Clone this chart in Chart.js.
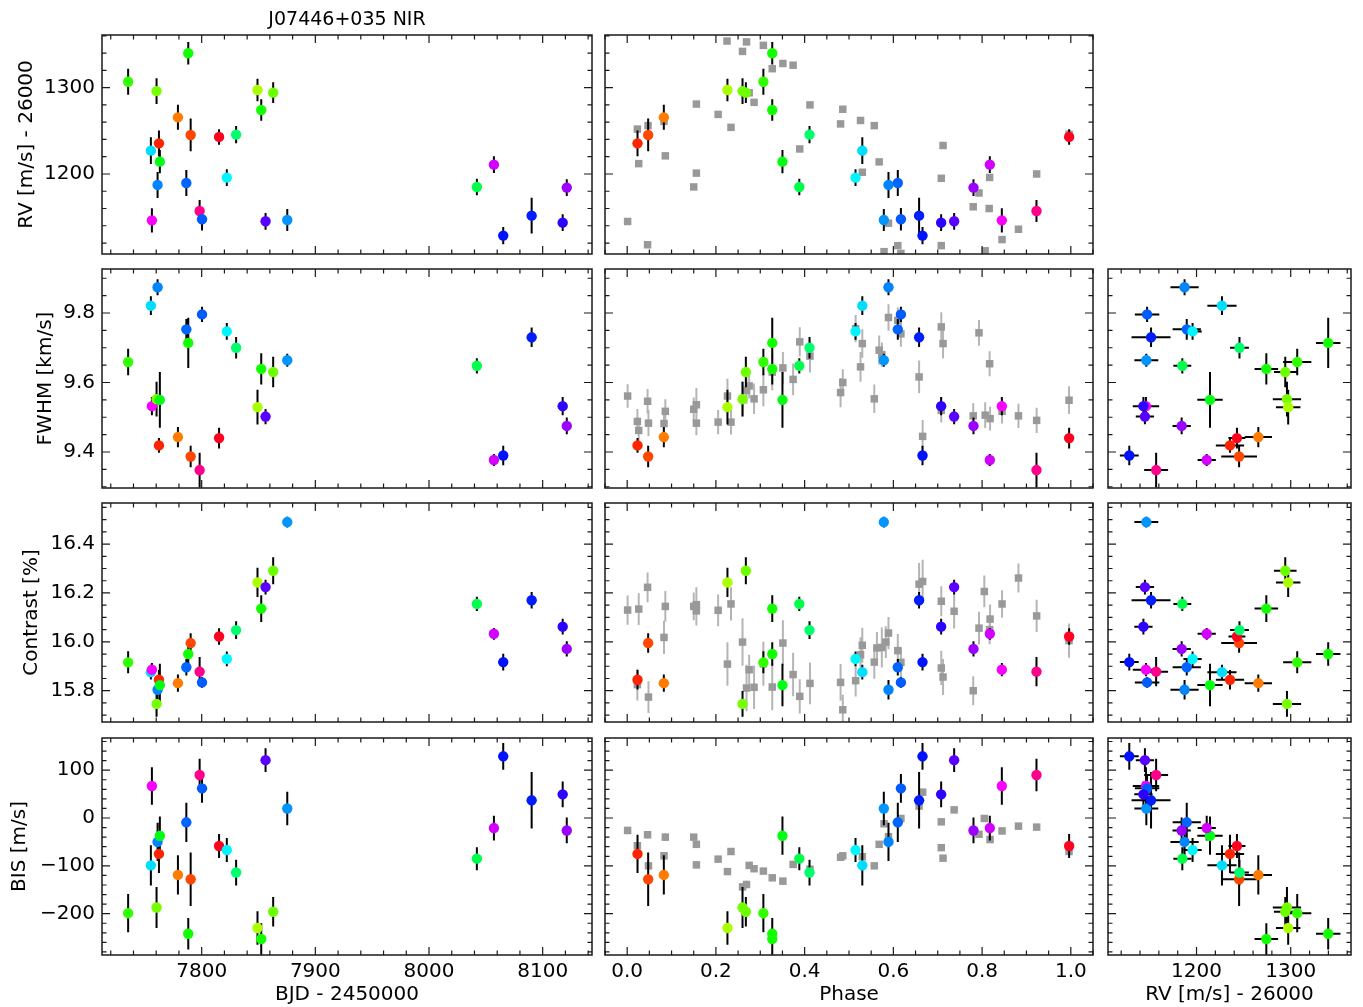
<!DOCTYPE html>
<html>
<head>
<meta charset="utf-8">
<title>J07446+035 NIR</title>
<script src="https://cdn.jsdelivr.net/npm/chart.js@4.4.1/dist/chart.umd.min.js"></script>
<style>
  html, body { margin: 0; padding: 0; background: #fff; }
  #page { position: relative; width: 1363px; height: 1007px; overflow: hidden; }
  #page canvas { position: absolute; }
</style>
</head>
<body>
<div id="page"></div>
<script>
/* ---------- values ---------- */

// NIR epochs (coloured by phase)
const bjd      = [7735.3, 7755.3, 7756.2, 7760.3, 7761.2, 7762.4, 7763.2, 7779.1, 7786.5, 7788.2, 7790.3, 7798.2, 7800.3, 7815.3,
                  7822.1, 7830.3, 7849.1, 7852.4, 7856.2, 7862.9, 7875.3, 8042.1, 8057.1, 8065.3, 8090.3, 8117.6, 8121.2];
const phase    = [0.307, 0.530, 0.8445, 0.260, 0.589, 0.0233, 0.350, 0.0826, 0.610, 0.327, 0.0473, 0.9226, 0.617, 0.9962,
                  0.5147, 0.411, 0.226, 0.327, 0.737, 0.2675, 0.5785, 0.388, 0.8174, 0.6657, 0.658, 0.7077, 0.7806];
const rv       = [1306.9, 1227.0, 1146.3, 1296.0, 1187.3, 1235.5, 1214.3, 1265.6, 1189.6, 1339.8, 1245.2, 1157.1, 1147.5, 1242.9,
                  1195.8, 1245.6, 1297.3, 1274.1, 1145.2, 1294.2, 1146.7, 1184.9, 1210.8, 1128.6, 1151.7, 1143.6, 1184.2];
const rvErr    = [15, 15.5, 14, 15, 15, 15, 13.5, 14.5, 15, 13, 19, 12.7, 13, 9, 9.7, 10, 13, 12.5, 9.7, 12, 12.7, 9.5, 9.7, 10, 20.7, 9.7, 9.7];
const fwhm     = [9.659, 9.821, 9.532, 9.552, 9.874, 9.419, 9.550, 9.443, 9.753, 9.714, 9.387, 9.348, 9.796, 9.440,
                  9.747, 9.700, 9.529, 9.639, 9.502, 9.630, 9.664, 9.648, 9.377, 9.390, 9.730, 9.532, 9.475];
const fwhmErr  = [0.038, 0.027, 0.026, 0.05, 0.023, 0.021, 0.08, 0.029, 0.03, 0.072, 0.031, 0.05, 0.022, 0.03,
                  0.024, 0.031, 0.05, 0.045, 0.022, 0.044, 0.019, 0.022, 0.017, 0.028, 0.028, 0.026, 0.024];
const contrast = [15.916, 15.876, 15.886, 15.746, 15.804, 15.845, 15.823, 15.831, 15.896, 15.950, 15.995, 15.878, 15.834, 16.022,
                  15.930, 16.048, 16.243, 16.136, 16.224, 16.291, 16.490, 16.155, 16.033, 15.917, 16.170, 16.062, 15.971];
const contrastErr = [0.045, 0.03, 0.027, 0.053, 0.04, 0.04, 0.087, 0.035, 0.034, 0.048, 0.04, 0.06, 0.022, 0.034,
                  0.03, 0.036, 0.06, 0.055, 0.03, 0.055, 0.022, 0.029, 0.024, 0.034, 0.034, 0.032, 0.031];
const bis      = [-199, -99, 67, -187, -50, -75, -37, -119, -9, -242, -128, 90, 62, -58.5,
                  -67, -114, -230, -253, 121, -196, 20, -85, -21, 129, 37, 49.5, -26];
const bisErr   = [40, 42, 39, 43, 40, 40, 40, 41, 41, 33, 56, 34, 30, 25, 25, 27, 35, 33, 25, 31, 35, 24, 26, 28, 59, 27, 27];

// grey comparison points in the phase column
const greyRvPhase = [0.001, 0.023, 0.026, 0.047, 0.046, 0.083, 0.086, 0.156, 0.156, 0.150, 0.205, 0.234, 0.225, 0.260, 0.269,
                     0.275, 0.286, 0.307, 0.327, 0.351, 0.374, 0.389, 0.412, 0.486, 0.481, 0.526, 0.530, 0.557, 0.568, 0.589,
                     0.610, 0.579, 0.617, 0.712, 0.708, 0.708, 0.780, 0.793, 0.817, 0.816, 0.807, 0.845, 0.882, 0.923, 0.996];
const greyRv      = [1145, 1252, 1212, 1256, 1118, 1261, 1221, 1281, 1201, 1185, 1269, 1254, 1354, 1342, 1353,
                     1294, 1283, 1349, 1322, 1328, 1326, 1229, 1280, 1275, 1258, 1262, 1202, 1256, 1214, 1143,
                     1117, 1110, 1108, 1233, 1195, 1117, 1162, 1178, 1196, 1160, 1111, 1124, 1136, 1200, 1246];

const greyFwhmPhase = [0.001, 0.023, 0.026, 0.046, 0.048, 0.083, 0.086, 0.150, 0.156, 0.156, 0.205, 0.226, 0.234, 0.260, 0.269,
                       0.275, 0.286, 0.307, 0.327, 0.351, 0.374, 0.389, 0.412, 0.481, 0.486, 0.515, 0.530, 0.526, 0.557, 0.568,
                       0.574, 0.589, 0.610, 0.617, 0.658, 0.666, 0.708, 0.712, 0.708, 0.780, 0.793, 0.807, 0.817, 0.818, 0.845,
                       0.882, 0.923, 0.996];
const greyFwhm      = [9.561, 9.488, 9.462, 9.546, 9.483, 9.482, 9.517, 9.523, 9.536, 9.483, 9.486, 9.561, 9.486, 9.553, 9.577,
                       9.590, 9.553, 9.579, 9.630, 9.642, 9.609, 9.717, 9.676, 9.571, 9.600, 9.755, 9.712, 9.645, 9.553, 9.693,
                       9.680, 9.787, 9.779, 9.740, 9.616, 9.445, 9.760, 9.712, 9.520, 9.504, 9.743, 9.506, 9.654, 9.496, 9.517,
                       9.504, 9.491, 9.549];
const greyFwhmErr   = [0.034, 0.036, 0.034, 0.035, 0.038, 0.034, 0.035, 0.034, 0.048, 0.035, 0.035, 0.05, 0.036, 0.05, 0.038,
                       0.036, 0.044, 0.047, 0.052, 0.046, 0.046, 0.042, 0.047, 0.042, 0.038, 0.039, 0.041, 0.043, 0.041, 0.042,
                       0.035, 0.038, 0.037, 0.037, 0.047, 0.047, 0.042, 0.042, 0.035, 0.036, 0.037, 0.037, 0.036, 0.034, 0.035,
                       0.035, 0.036, 0.04];

const greyContrastPhase = [0.001, 0.026, 0.023, 0.046, 0.048, 0.086, 0.083, 0.150, 0.156, 0.156, 0.205, 0.234, 0.226, 0.260, 0.269,
                           0.275, 0.286, 0.307, 0.327, 0.351, 0.374, 0.389, 0.412, 0.481, 0.486, 0.515, 0.526, 0.530, 0.557, 0.563,
                           0.574, 0.583, 0.589, 0.610, 0.617, 0.658, 0.666, 0.708, 0.708, 0.712, 0.737, 0.780, 0.793, 0.805, 0.818,
                           0.817, 0.845, 0.882, 0.923, 0.996];
const greyContrast      = [16.130, 16.134, 15.825, 16.223, 15.774, 16.145, 16.018, 16.145, 16.152, 16.127, 16.129, 16.155, 15.909, 15.999, 15.811,
                           15.886, 15.814, 15.910, 15.815, 15.995, 15.866, 15.777, 15.830, 15.834, 15.722, 15.841, 15.947, 15.986, 15.917, 15.975,
                           15.977, 15.999, 16.036, 15.964, 15.916, 16.236, 16.247, 16.166, 15.893, 15.856, 16.125, 15.800, 16.056, 16.206, 16.093,
                           16.050, 16.155, 16.261, 16.106, 16.005];
const greyContrastErr   = [0.06, 0.065, 0.065, 0.061, 0.065, 0.063, 0.068, 0.057, 0.071, 0.06, 0.065, 0.068, 0.089, 0.097, 0.095,
                           0.061, 0.089, 0.09, 0.095, 0.093, 0.089, 0.07, 0.085, 0.075, 0.061, 0.065, 0.072, 0.072, 0.068, 0.065,
                           0.082, 0.065, 0.066, 0.068, 0.061, 0.087, 0.089, 0.061, 0.07, 0.074, 0.07, 0.059, 0.067, 0.065, 0.06,
                           0.06, 0.056, 0.059, 0.066, 0.07];

const greyBisPhase = [0.001, 0.023, 0.046, 0.048, 0.086, 0.083, 0.150, 0.156, 0.156, 0.205, 0.234, 0.226, 0.260, 0.269,
                      0.275, 0.286, 0.307, 0.327, 0.351, 0.374, 0.412, 0.481, 0.486, 0.530, 0.557, 0.568, 0.579, 0.589,
                      0.617, 0.658, 0.666, 0.708, 0.708, 0.712, 0.737, 0.793, 0.805, 0.818, 0.845, 0.882, 0.923, 0.996];
const greyBis      = [-26, -58, -35, -100, -40, -79, -40, -55, -98, -86, -70, -112, -144, -139,
                      -99, -106, -111, -125, -132, -97, -107, -82, -79, -81, -100, -55, -12, -39,
                      -1, 25, 54, -8, -62, -84, 17, -34, -1, -45, -27, -17, -19, -70];
const greyBisErr   = [8, 7, 8, 6, 8, 7, 6, 6, 7, 7, 6, 6, 7, 8,
                      7, 6, 6, 6, 7, 7, 6, 6, 6, 6, 6, 6, 6, 6,
                      6, 6, 7, 6, 6, 6, 6, 6, 6, 6, 7, 7, 6, 7];

// tick labels
const bjdTicks      = [7800, 7900, 8000, 8100];
const phaseTicks    = [0.0, 0.2, 0.4, 0.6, 0.8, 1.0];
const rvTicks       = [1200, 1300];
const fwhmTicks     = [9.4, 9.6, 9.8];
const contrastTicks = [15.8, 16.0, 16.2, 16.4];
const bisTicks      = [-200, -100, 0, 100];

/* ---------- layout ---------- */
const cols = [{L: 102, R: 592}, {L: 605, R: 1093}, {L: 1108, R: 1351}];
const rows = [{T: 35, B: 254}, {T: 269, B: 488}, {T: 503, B: 722}, {T: 738, B: 955}];

const xAxes = {
  bjd:   {range: [7712.3, 8143.4], ticks: bjdTicks, step: 20, fmt: v => String(v), title: 'BJD - 2450000'},
  phase: {range: [-0.05, 1.05], ticks: phaseTicks, step: 0.05, fmt: v => v.toFixed(1), title: 'Phase'},
  rv:    {range: [1106, 1364], ticks: rvTicks, step: 20, fmt: v => String(v), title: 'RV [m/s] - 26000'}
};
const yAxes = {
  rv:       {range: [1107.3, 1361], ticks: rvTicks, step: 20, fmt: v => String(v), title: 'RV [m/s] - 26000', pad: 15},
  fwhm:     {range: [9.2964, 9.9266], ticks: fwhmTicks, step: 0.05, fmt: v => v.toFixed(1), title: 'FWHM [km/s]', pad: 34},
  contrast: {range: [15.672, 16.568], ticks: contrastTicks, step: 0.05, fmt: v => v.toFixed(1), title: 'Contrast [%]', pad: 20},
  bis:      {range: [-286.4, 167.3], ticks: bisTicks, step: 20, fmt: v => (v < 0 ? '\u2212' : '') + Math.abs(v), title: 'BIS [m/s]', pad: 8}
};

Chart.defaults.font.family = "'DejaVu Sans', sans-serif";
Chart.defaults.font.size = 20;
Chart.defaults.color = '#000';

// matplotlib 'hsv' colormap
const hsvSeg = {
  r: [[0, 1], [0.15873, 1], [0.174603, 0.96875], [0.333333, 0.03125], [0.349206, 0], [0.666667, 0], [0.68254, 0.03125], [0.84127, 0.96875], [0.857143, 1], [1, 1]],
  g: [[0, 0], [0.15873, 0.9375], [0.174603, 1], [0.507937, 1], [0.666667, 0.0625], [0.68254, 0], [1, 0]],
  b: [[0, 0], [0.333333, 0], [0.349206, 0.0625], [0.507937, 1], [0.84127, 1], [0.857143, 0.9375], [1, 0.09375]]
};
const seg = (s, t) => {
  for (let i = 1; i < s.length; i++) {
    if (t <= s[i][0]) {
      const f = (t - s[i - 1][0]) / (s[i][0] - s[i - 1][0]);
      return s[i - 1][1] + f * (s[i][1] - s[i - 1][1]);
    }
  }
  return s[s.length - 1][1];
};
const hsv = t => `rgb(${Math.round(255 * seg(hsvSeg.r, t))},${Math.round(255 * seg(hsvSeg.g, t))},${Math.round(255 * seg(hsvSeg.b, t))})`;
const colors = phase.map(hsv);

/* error bars, drawn just before the dataset they belong to */
const errorBars = {
  id: 'errorBars',
  beforeDatasetDraw(chart, args) {
    const ds = chart.data.datasets[args.index];
    if (!ds.errY && !ds.errX) return;
    const {ctx, chartArea: a, scales: {x, y}} = chart;
    ctx.save();
    ctx.beginPath();
    ctx.rect(a.left, a.top, a.right - a.left, a.bottom - a.top);
    ctx.clip();
    ctx.strokeStyle = ds.errColor;
    ctx.lineWidth = 2;
    ctx.beginPath();
    ds.data.forEach((p, i) => {
      const px = x.getPixelForValue(p.x), py = y.getPixelForValue(p.y);
      if (ds.errY) {
        ctx.moveTo(px, y.getPixelForValue(p.y - ds.errY[i]));
        ctx.lineTo(px, y.getPixelForValue(p.y + ds.errY[i]));
      }
      if (ds.errX) {
        ctx.moveTo(x.getPixelForValue(p.x - ds.errX[i]), py);
        ctx.lineTo(x.getPixelForValue(p.x + ds.errX[i]), py);
      }
    });
    ctx.stroke();
    ctx.restore();
  }
};

/* box + inward ticks on all four sides */
const frameTicks = {
  id: 'frameTicks',
  afterDatasetsDraw(chart, args, o) {
    const {ctx, chartArea: a, scales: {x, y}} = chart;
    const marks = (scale, majors, step) => {
      const out = majors.map(v => ({v, len: 8}));
      for (let k = Math.ceil(scale.min / step); k <= Math.floor(scale.max / step); k++) {
        const v = k * step;
        if (!majors.some(m => Math.abs(m - v) < step / 10)) out.push({v, len: 4.5});
      }
      return out;
    };
    ctx.save();
    ctx.strokeStyle = '#1a1a1a';
    ctx.lineWidth = 1.2;
    ctx.beginPath();
    marks(x, o.xTicks, o.xStep).forEach(t => {
      const px = x.getPixelForValue(t.v);
      ctx.moveTo(px, a.bottom); ctx.lineTo(px, a.bottom - t.len);
      ctx.moveTo(px, a.top); ctx.lineTo(px, a.top + t.len);
    });
    marks(y, o.yTicks, o.yStep).forEach(t => {
      const py = y.getPixelForValue(t.v);
      ctx.moveTo(a.left, py); ctx.lineTo(a.left + t.len, py);
      ctx.moveTo(a.right, py); ctx.lineTo(a.right - t.len, py);
    });
    ctx.stroke();
    ctx.lineWidth = 1.5;
    ctx.strokeRect(a.left, a.top, a.right - a.left, a.bottom - a.top);
    ctx.restore();
  }
};

const page = document.getElementById('page');

function panel(cfg) {
  const col = cols[cfg.col], row = rows[cfg.row];
  const xa = xAxes[cfg.xAxis], ya = yAxes[cfg.yAxis];
  const showY = cfg.col === 0, showX = cfg.row === 3;
  const padL = showY ? col.L : 8;
  const padT = cfg.row === 0 ? row.T : 6;
  const padR = 6;
  const padB = showX ? 1007 - row.B : 6;
  const w = col.R - col.L + padL + padR, h = row.B - row.T + padT + padB;

  const cv = document.createElement('canvas');
  cv.width = w; cv.height = h;
  cv.style.left = (col.L - padL) + 'px';
  cv.style.top = (row.T - padT) + 'px';
  page.appendChild(cv);

  const datasets = [{
    data: cfg.x.map((v, i) => ({x: v, y: cfg.y[i]})),
    pointStyle: 'circle',
    pointRadius: 5.2,
    pointBorderWidth: 0,
    pointBackgroundColor: colors,
    clip: 0,
    order: 0,
    errY: cfg.yErr, errX: cfg.xErr, errColor: '#000'
  }];
  if (cfg.grey) {
    datasets.push({
      data: cfg.grey.x.map((v, i) => ({x: v, y: cfg.grey.y[i]})),
      pointStyle: 'rect',
      pointRadius: 5.3,
      pointBorderWidth: 0,
      pointBackgroundColor: '#999999',
      clip: 0,
      order: 1,
      errY: cfg.grey.e, errColor: '#b5b5b5'
    });
  }

  const axis = (ax, shown, horiz) => ({
    type: 'linear',
    min: ax.range[0], max: ax.range[1],
    bounds: 'data',
    display: shown,
    grid: {display: false, drawTicks: false},
    border: {display: false},
    ticks: {padding: horiz ? 5 : 7, autoSkip: false, maxRotation: 0, minRotation: 0, callback: v => ax.fmt(v)},
    afterBuildTicks: s => { s.ticks = ax.ticks.map(v => ({value: v})); },
    afterFit: s => {
      // labels never reach the panel edges here, so no extra label padding
      s.paddingTop = s.paddingBottom = s.paddingLeft = s.paddingRight = 0;
      if (!shown) return;
      if (horiz) s.height = padB; else s.width = padL;
    },
    title: horiz
      ? {display: true, text: ax.title, padding: {top: 0, bottom: 0}}
      : {display: true, text: ax.title, padding: {top: ax.pad, bottom: 0}}
  });

  new Chart(cv, {
    type: 'scatter',
    data: {datasets},
    options: {
      responsive: false,
      animation: false,
      devicePixelRatio: 1,
      events: [],
      layout: {padding: {left: showY ? 0 : padL, top: cfg.title ? 0 : padT, right: padR, bottom: showX ? 0 : padB}},
      plugins: {
        legend: {display: false},
        tooltip: {enabled: false},
        title: cfg.title
          ? {display: true, text: cfg.title, fullSize: false, font: {size: 19, weight: 'normal'}, color: '#000', padding: {top: 9, bottom: 3.2}}
          : {display: false},
        frameTicks: {xTicks: xa.ticks, xStep: xa.step, yTicks: ya.ticks, yStep: ya.step}
      },
      scales: {x: axis(xa, showX, true), y: axis(ya, showY, false)}
    },
    plugins: [errorBars, frameTicks]
  });
}

const greyRvSet       = {x: greyRvPhase, y: greyRv};
const greyFwhmSet     = {x: greyFwhmPhase, y: greyFwhm, e: greyFwhmErr};
const greyContrastSet = {x: greyContrastPhase, y: greyContrast, e: greyContrastErr};
const greyBisSet      = {x: greyBisPhase, y: greyBis, e: greyBisErr};

panel({col: 0, row: 0, xAxis: 'bjd',   yAxis: 'rv', x: bjd,   y: rv, yErr: rvErr, title: 'J07446+035 NIR'});
panel({col: 1, row: 0, xAxis: 'phase', yAxis: 'rv', x: phase, y: rv, yErr: rvErr, grey: greyRvSet});

panel({col: 0, row: 1, xAxis: 'bjd',   yAxis: 'fwhm', x: bjd,   y: fwhm, yErr: fwhmErr});
panel({col: 1, row: 1, xAxis: 'phase', yAxis: 'fwhm', x: phase, y: fwhm, yErr: fwhmErr, grey: greyFwhmSet});
panel({col: 2, row: 1, xAxis: 'rv',    yAxis: 'fwhm', x: rv,    y: fwhm, yErr: fwhmErr, xErr: rvErr});

panel({col: 0, row: 2, xAxis: 'bjd',   yAxis: 'contrast', x: bjd,   y: contrast, yErr: contrastErr});
panel({col: 1, row: 2, xAxis: 'phase', yAxis: 'contrast', x: phase, y: contrast, yErr: contrastErr, grey: greyContrastSet});
panel({col: 2, row: 2, xAxis: 'rv',    yAxis: 'contrast', x: rv,    y: contrast, yErr: contrastErr, xErr: rvErr});

panel({col: 0, row: 3, xAxis: 'bjd',   yAxis: 'bis', x: bjd,   y: bis, yErr: bisErr});
panel({col: 1, row: 3, xAxis: 'phase', yAxis: 'bis', x: phase, y: bis, yErr: bisErr, grey: greyBisSet});
panel({col: 2, row: 3, xAxis: 'rv',    yAxis: 'bis', x: rv,    y: bis, yErr: bisErr, xErr: rvErr});
</script>
</body>
</html>
